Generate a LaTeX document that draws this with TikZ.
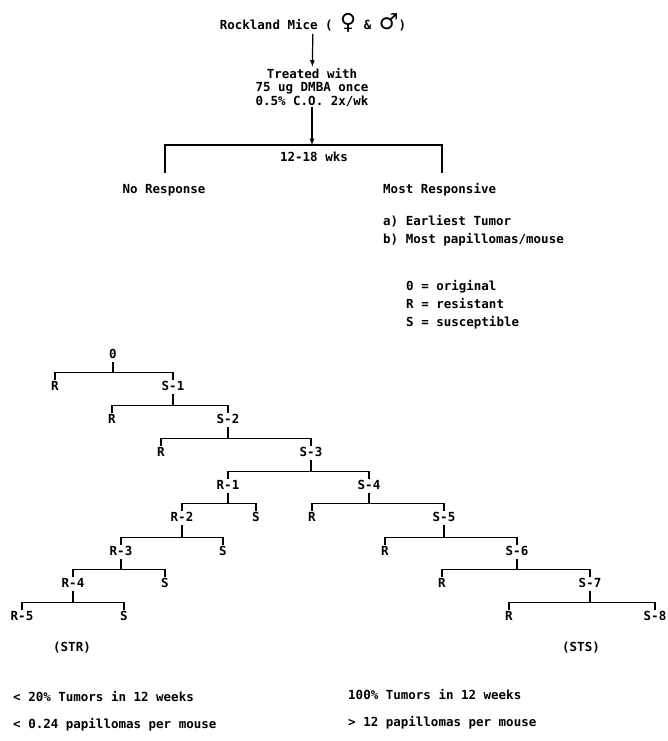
\documentclass[tikz,border=0pt]{standalone}
\usepackage{fontspec}
\newfontfamily\tw{DejaVu Sans Mono}
\newfontfamily\symf{DejaVu Sans}
\usetikzlibrary{arrows,positioning}

\tikzset{
  txt/.style={font=\tw\bfseries\fontsize{12.5}{13.5}\selectfont, inner sep=1pt},
  lbl/.style={txt, text height=9.5pt, text depth=2.5pt},
  ln/.style={line width=1.2pt},
}

% Gabel: Elternknoten, linkes Kind, rechtes Kind
\newcommand{\fork}[3]{%
  \coordinate (#2bar) at ([yshift=7pt]#2.north);
  \draw[ln] (#2.north) -- (#2bar) -- (#2bar -| #3.north) -- (#3.north);
  \draw[ln] (#1.south) -- (#1.south |- #2bar);
}

\begin{document}
\begin{tikzpicture}[x=1pt,y=-1pt]
\useasboundingbox (0,0) rectangle (667,741);

% Kopf
\node[txt, anchor=base] (rock) at (313,30)
  {Rockland Mice ( {\symf\fontsize{22}{22}\selectfont ♀} \& {\symf\fontsize{22}{22}\selectfont ♂})};
\node[txt, align=center] (treat) at (312,87)
  {Treated with\\75 ug DMBA once\\0.5\% C.O. 2x/wk};
\draw[ln,-latex] (rock) -- (treat);

% Klammer
\coordinate (top) at (312,145);
\coordinate (bl) at (165,173);
\coordinate (br) at (442,173);
\draw[ln,-latex] (treat) -- (top);
\draw[ln] (bl) |- (top) -| (br);
\node[lbl] (wks) at (314,158) {12-18 wks};

\node[lbl] (none) at (164,190) {No Response};
\node[lbl, anchor=west] (most) at (382,190) {Most Responsive};
\node[lbl, anchor=west] (crita) at (382,222) {a) Earliest Tumor};
\node[lbl, anchor=west] (critb) at (382,240) {b) Most papillomas/mouse};

% Legende
\node[lbl, anchor=west] (lego) at (405,287) {0 = original};
\node[lbl, anchor=west] (legr) at (405,305) {R = resistant};
\node[lbl, anchor=west] (legs) at (405,323) {S = susceptible};

% Stammbaum
\node[lbl] (n0) at (113,355) {0};
\node[lbl] (r1) at (55,387) {R};
\node[lbl] (s1) at (173,387) {S-1};
\node[lbl] (r2) at (112,420) {R};
\node[lbl] (s2) at (228,420) {S-2};
\node[lbl] (r3) at (161,453) {R};
\node[lbl] (s3) at (311,453) {S-3};
\node[lbl] (ra1) at (228,486) {R-1};
\node[lbl] (s4) at (369,486) {S-4};
\node[lbl] (ra2) at (182,518) {R-2};
\node[lbl] (sa1) at (256,518) {S};
\node[lbl] (r5) at (312,518) {R};
\node[lbl] (s5) at (444,518) {S-5};
\node[lbl] (ra3) at (121,552) {R-3};
\node[lbl] (sa2) at (223,552) {S};
\node[lbl] (r6) at (385,552) {R};
\node[lbl] (s6) at (517,552) {S-6};
\node[lbl] (ra4) at (73,584) {R-4};
\node[lbl] (sa3) at (165,584) {S};
\node[lbl] (r7) at (442,584) {R};
\node[lbl] (s7) at (590,584) {S-7};
\node[lbl] (ra5) at (22,617) {R-5};
\node[lbl] (sa4) at (124,617) {S};
\node[lbl] (r8) at (509,617) {R};
\node[lbl] (s8) at (655,617) {S-8};

\fork{n0}{r1}{s1}
\fork{s1}{r2}{s2}
\fork{s2}{r3}{s3}
\fork{s3}{ra1}{s4}
\fork{ra1}{ra2}{sa1}
\fork{s4}{r5}{s5}
\fork{ra2}{ra3}{sa2}
\fork{s5}{r6}{s6}
\fork{ra3}{ra4}{sa3}
\fork{s6}{r7}{s7}
\fork{ra4}{ra5}{sa4}
\fork{s7}{r8}{s8}

% Ergebnisse
\node[lbl] (str) at (72,648) {(STR)};
\node[lbl] (sts) at (581,648) {(STS)};
\node[lbl, anchor=west] (resa) at (12,698) {< 20\% Tumors in 12 weeks};
\node[lbl, anchor=west] (resb) at (12,725) {< 0.24 papillomas per mouse};
\node[lbl, anchor=west] (susa) at (347,696) {100\% Tumors in 12 weeks};
\node[lbl, anchor=west] (susb) at (347,723) {> 12 papillomas per mouse};

\end{tikzpicture}
\end{document}
